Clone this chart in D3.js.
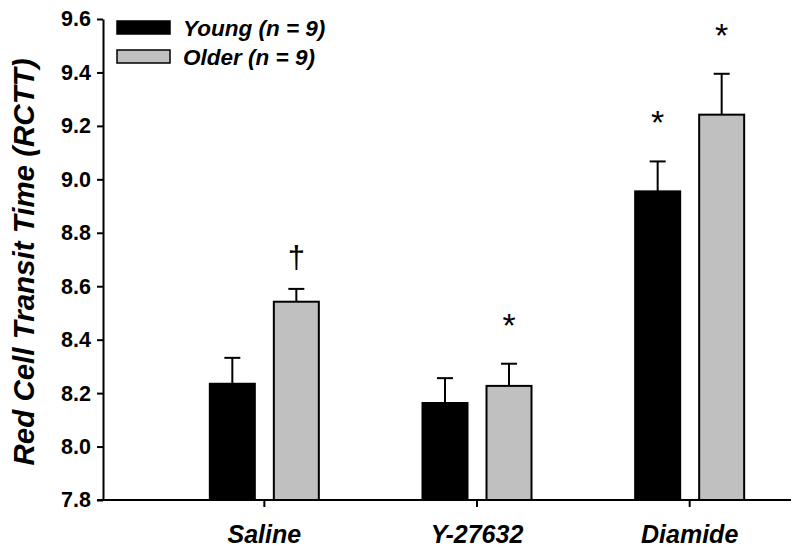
<!DOCTYPE html>
<html>
<head>
<meta charset="utf-8">
<script src="https://cdn.jsdelivr.net/npm/d3@7"></script>
<style>
  html, body { margin: 0; padding: 0; background: #fff; }
  svg { display: block; }
  text { font-family: Arial, "Liberation Sans", sans-serif; }
</style>
</head>
<body>
<div id="chart"></div>
<script>
// ---- Data ----
const categories = ["Saline", "Y-27632", "Diamide"];
const groups = ["Young (n = 9)", "Older (n = 9)"];
const youngMean = [8.235, 8.163, 8.955];
const youngSE   = [0.097, 0.093, 0.112];
const olderMean = [8.542, 8.227, 9.242];
const olderSE   = [0.048, 0.083, 0.153];
const youngMarks = ["", "", "*"];
const olderMarks = ["\u2020", "*", "*"];
const yTicks = [7.8, 8.0, 8.2, 8.4, 8.6, 8.8, 9.0, 9.2, 9.4, 9.6];
const yTitle = "Red Cell Transit Time (RCTT)";
const colors = ["#000000", "#c0c0c0"];

// ---- Layout ----
const W = 800, H = 552;
const svg = d3.select("#chart").append("svg").attr("width", W).attr("height", H);

const y = d3.scaleLinear().domain([7.8, 9.6]).range([500, 19]);
const x = d3.scaleBand().domain(categories).range([158, 796]).padding(0);
const x1 = d3.scaleBand().domain(groups).range([-54.5, 54.5]).paddingInner(0.297);

const series = [
  { name: groups[0], mean: youngMean, se: youngSE, marks: youngMarks, color: colors[0] },
  { name: groups[1], mean: olderMean, se: olderSE, marks: olderMarks, color: colors[1] }
];

const rows = [];
series.forEach(s => categories.forEach((c, i) => rows.push({
  cat: c, group: s.name, mean: s.mean[i], se: s.se[i], mark: s.marks[i], color: s.color
})));
const cx = d => x(d.cat) + x.bandwidth() / 2 + x1(d.group);

// Bars
svg.append("g").selectAll("rect").data(rows).join("rect")
  .attr("x", d => cx(d))
  .attr("y", d => y(d.mean))
  .attr("width", x1.bandwidth())
  .attr("height", d => y(7.8) - y(d.mean))
  .attr("fill", d => d.color)
  .attr("stroke", "#000")
  .attr("stroke-width", 2);

// Error bars (upper only)
const eb = svg.append("g").attr("stroke", "#000").attr("stroke-width", 2);
eb.selectAll("line.v").data(rows).join("line").attr("class", "v")
  .attr("x1", d => cx(d) + x1.bandwidth() / 2)
  .attr("x2", d => cx(d) + x1.bandwidth() / 2)
  .attr("y1", d => y(d.mean))
  .attr("y2", d => y(d.mean + d.se));
eb.selectAll("line.c").data(rows).join("line").attr("class", "c")
  .attr("x1", d => cx(d) + x1.bandwidth() / 2 - 8)
  .attr("x2", d => cx(d) + x1.bandwidth() / 2 + 8)
  .attr("y1", d => y(d.mean + d.se))
  .attr("y2", d => y(d.mean + d.se));

// Significance marks
svg.append("g").selectAll("text").data(rows.filter(d => d.mark)).join("text")
  .attr("x", d => cx(d) + x1.bandwidth() / 2)
  .attr("y", d => y(d.mean + d.se) - (d.mark === "*" ? 27 : 21))
  .attr("text-anchor", "middle")
  .attr("font-size", d => d.mark === "*" ? "34px" : "31px")
  .attr("fill", "#000")
  .text(d => d.mark);

// Y axis
const yAxis = svg.append("g").attr("transform", "translate(103,0)")
  .call(d3.axisLeft(y).tickValues(yTicks).tickFormat(d3.format(".1f")).tickSize(6).tickPadding(6).tickSizeOuter(0));
yAxis.select(".domain").attr("stroke-width", 2);
yAxis.selectAll(".tick line").attr("stroke-width", 2);
yAxis.selectAll(".tick text").attr("font-size", "21.5px").attr("font-weight", "bold").attr("fill", "#000")
  .attr("font-family", "Arial, 'Liberation Sans', sans-serif");

// X axis
const xAxis = svg.append("g").attr("transform", "translate(0,500)")
  .call(d3.axisBottom(x).tickSize(7).tickPadding(0).tickFormat(""));
xAxis.select(".domain").remove();
xAxis.selectAll(".tick line").attr("stroke-width", 2);
svg.append("line").attr("x1", 97).attr("x2", 791).attr("y1", 500).attr("y2", 500)
  .attr("stroke", "#000").attr("stroke-width", 2);

// Category labels
svg.append("g").selectAll("text").data(categories).join("text")
  .attr("x", d => x(d) + x.bandwidth() / 2)
  .attr("y", 543)
  .attr("text-anchor", "middle")
  .attr("font-size", "25px").attr("font-weight", "bold").attr("font-style", "italic")
  .text(d => d);

// Y title
svg.append("text")
  .attr("transform", "translate(34,262) rotate(-90)")
  .attr("text-anchor", "middle")
  .attr("font-size", "29.5px").attr("font-weight", "bold").attr("font-style", "italic")
  .text(yTitle);

// Legend
const lg = svg.append("g").selectAll("g").data(series).join("g")
  .attr("transform", (d, i) => `translate(117,${21 + i * 29})`);
lg.append("rect").attr("width", 53).attr("height", 13)
  .attr("fill", d => d.color).attr("stroke", "#000").attr("stroke-width", 1.5);
lg.append("text").attr("x", 66).attr("y", 14.5)
  .attr("font-size", "22.5px").attr("font-weight", "bold").attr("font-style", "italic")
  .text(d => d.name);
</script>
</body>
</html>
